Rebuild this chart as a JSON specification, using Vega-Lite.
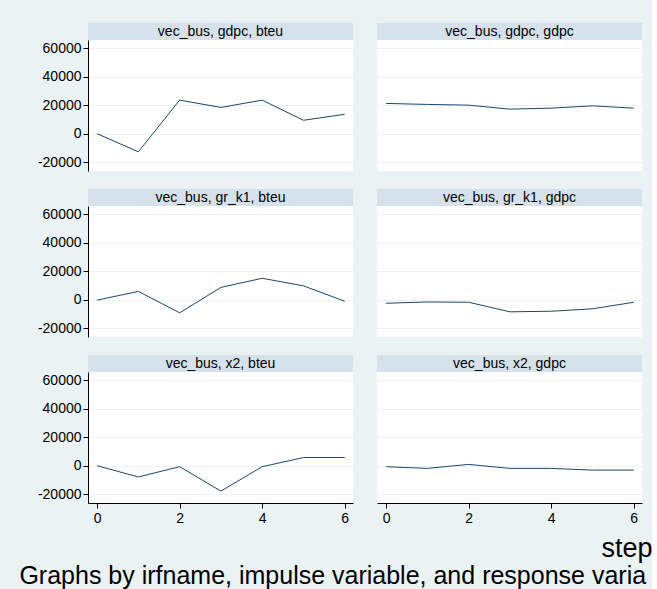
{
  "$schema": "https://vega.github.io/schema/vega-lite/v6.json",
  "background": "#eaf2f3",
  "padding": {"left": 19, "top": 23, "right": 0, "bottom": 0},
  "autosize": {"type": "pad"},
  "datasets": {
    "irf": [
      {"panel": "vec_bus, gdpc, bteu", "step": 0, "value": 0},
      {"panel": "vec_bus, gdpc, bteu", "step": 1, "value": -12700},
      {"panel": "vec_bus, gdpc, bteu", "step": 2, "value": 23500},
      {"panel": "vec_bus, gdpc, bteu", "step": 3, "value": 18400},
      {"panel": "vec_bus, gdpc, bteu", "step": 4, "value": 23500},
      {"panel": "vec_bus, gdpc, bteu", "step": 5, "value": 9400},
      {"panel": "vec_bus, gdpc, bteu", "step": 6, "value": 13600},
      {"panel": "vec_bus, gdpc, gdpc", "step": 0, "value": 21200},
      {"panel": "vec_bus, gdpc, gdpc", "step": 1, "value": 20500},
      {"panel": "vec_bus, gdpc, gdpc", "step": 2, "value": 20000},
      {"panel": "vec_bus, gdpc, gdpc", "step": 3, "value": 17200},
      {"panel": "vec_bus, gdpc, gdpc", "step": 4, "value": 17900},
      {"panel": "vec_bus, gdpc, gdpc", "step": 5, "value": 19500},
      {"panel": "vec_bus, gdpc, gdpc", "step": 6, "value": 17900},
      {"panel": "vec_bus, gr_k1, bteu", "step": 0, "value": -300},
      {"panel": "vec_bus, gr_k1, bteu", "step": 1, "value": 5800},
      {"panel": "vec_bus, gr_k1, bteu", "step": 2, "value": -9200},
      {"panel": "vec_bus, gr_k1, bteu", "step": 3, "value": 8600},
      {"panel": "vec_bus, gr_k1, bteu", "step": 4, "value": 15000},
      {"panel": "vec_bus, gr_k1, bteu", "step": 5, "value": 9700},
      {"panel": "vec_bus, gr_k1, bteu", "step": 6, "value": -1100},
      {"panel": "vec_bus, gr_k1, gdpc", "step": 0, "value": -2500},
      {"panel": "vec_bus, gr_k1, gdpc", "step": 1, "value": -1600},
      {"panel": "vec_bus, gr_k1, gdpc", "step": 2, "value": -1800},
      {"panel": "vec_bus, gr_k1, gdpc", "step": 3, "value": -8500},
      {"panel": "vec_bus, gr_k1, gdpc", "step": 4, "value": -8100},
      {"panel": "vec_bus, gr_k1, gdpc", "step": 5, "value": -6400},
      {"panel": "vec_bus, gr_k1, gdpc", "step": 6, "value": -1800},
      {"panel": "vec_bus, x2, bteu", "step": 0, "value": 0},
      {"panel": "vec_bus, x2, bteu", "step": 1, "value": -7900},
      {"panel": "vec_bus, x2, bteu", "step": 2, "value": -700},
      {"panel": "vec_bus, x2, bteu", "step": 3, "value": -17800},
      {"panel": "vec_bus, x2, bteu", "step": 4, "value": -700},
      {"panel": "vec_bus, x2, bteu", "step": 5, "value": 5700},
      {"panel": "vec_bus, x2, bteu", "step": 6, "value": 5700},
      {"panel": "vec_bus, x2, gdpc", "step": 0, "value": -700},
      {"panel": "vec_bus, x2, gdpc", "step": 1, "value": -1900},
      {"panel": "vec_bus, x2, gdpc", "step": 2, "value": 900},
      {"panel": "vec_bus, x2, gdpc", "step": 3, "value": -1900},
      {"panel": "vec_bus, x2, gdpc", "step": 4, "value": -1900},
      {"panel": "vec_bus, x2, gdpc", "step": 5, "value": -3100},
      {"panel": "vec_bus, x2, gdpc", "step": 6, "value": -3100}
    ]
  },
  "title": {
    "text": "Graphs by irfname, impulse variable, and response varia",
    "orient": "bottom",
    "anchor": "start",
    "frame": "bounds",
    "dx": -18,
    "offset": 3,
    "font": "Liberation Sans",
    "fontSize": 25,
    "fontWeight": "normal",
    "color": "#000000"
  },
  "config": {
    "view": {"stroke": null},
    "axis": {
      "labelFont": "Liberation Sans",
      "labelColor": "#000000",
      "labelFontSize": 14,
      "tickColor": "#000000",
      "domainColor": "#000000",
      "gridColor": "#eaf2f3",
      "gridWidth": 1,
      "tickSize": 5,
      "labelPadding": 2
    }
  },
  "concat": [
    {
      "spacing": 0,
      "vconcat": [
        {"width": 265, "height": 17, "view": {"fill": "#d6e2eb", "stroke": null}, "data": {"name": "irf"},
         "transform": [{"filter": "datum.panel === 'vec_bus, gdpc, bteu' && datum.step === 0"}],
         "mark": {"type": "text", "font": "Liberation Sans", "fontSize": 14, "color": "#000000"},
         "encoding": {"text": {"field": "panel"}}},
        {"width": 265, "height": 131, "view": {"fill": "#ffffff", "stroke": null}, "data": {"name": "irf"},
         "transform": [{"filter": "datum.panel === 'vec_bus, gdpc, bteu'"}],
         "mark": {"type": "line", "color": "#1a476f", "strokeWidth": 1},
         "encoding": {
           "x": {"field": "step", "type": "quantitative", "scale": {"domain": [-0.22, 6.2], "nice": false, "zero": false}, "axis": null},
           "y": {"field": "value", "type": "quantitative", "scale": {"domain": [-26150, 65650], "nice": false, "zero": false},
                 "axis": {"values": [-20000, 0, 20000, 40000, 60000], "title": null, "grid": true, "labelExpr": "'' + datum.value"}}
         }}
      ]
    },
    {
      "spacing": 0,
      "vconcat": [
        {"width": 265, "height": 17, "view": {"fill": "#d6e2eb", "stroke": null}, "data": {"name": "irf"},
         "transform": [{"filter": "datum.panel === 'vec_bus, gdpc, gdpc' && datum.step === 0"}],
         "mark": {"type": "text", "font": "Liberation Sans", "fontSize": 14, "color": "#000000"},
         "encoding": {"text": {"field": "panel"}}},
        {"width": 265, "height": 131, "view": {"fill": "#ffffff", "stroke": null}, "data": {"name": "irf"},
         "transform": [{"filter": "datum.panel === 'vec_bus, gdpc, gdpc'"}],
         "mark": {"type": "line", "color": "#1a476f", "strokeWidth": 1},
         "encoding": {
           "x": {"field": "step", "type": "quantitative", "scale": {"domain": [-0.22, 6.2], "nice": false, "zero": false}, "axis": null},
           "y": {"field": "value", "type": "quantitative", "scale": {"domain": [-26150, 65650], "nice": false, "zero": false},
                 "axis": {"values": [-20000, 0, 20000, 40000, 60000], "title": null, "grid": true, "labels": false, "ticks": false, "domain": false}}
         }}
      ]
    },
    {
      "spacing": 0,
      "vconcat": [
        {"width": 265, "height": 17, "view": {"fill": "#d6e2eb", "stroke": null}, "data": {"name": "irf"},
         "transform": [{"filter": "datum.panel === 'vec_bus, gr_k1, bteu' && datum.step === 0"}],
         "mark": {"type": "text", "font": "Liberation Sans", "fontSize": 14, "color": "#000000"},
         "encoding": {"text": {"field": "panel"}}},
        {"width": 265, "height": 131, "view": {"fill": "#ffffff", "stroke": null}, "data": {"name": "irf"},
         "transform": [{"filter": "datum.panel === 'vec_bus, gr_k1, bteu'"}],
         "mark": {"type": "line", "color": "#1a476f", "strokeWidth": 1},
         "encoding": {
           "x": {"field": "step", "type": "quantitative", "scale": {"domain": [-0.22, 6.2], "nice": false, "zero": false}, "axis": null},
           "y": {"field": "value", "type": "quantitative", "scale": {"domain": [-26150, 65650], "nice": false, "zero": false},
                 "axis": {"values": [-20000, 0, 20000, 40000, 60000], "title": null, "grid": true, "labelExpr": "'' + datum.value"}}
         }}
      ]
    },
    {
      "spacing": 0,
      "vconcat": [
        {"width": 265, "height": 17, "view": {"fill": "#d6e2eb", "stroke": null}, "data": {"name": "irf"},
         "transform": [{"filter": "datum.panel === 'vec_bus, gr_k1, gdpc' && datum.step === 0"}],
         "mark": {"type": "text", "font": "Liberation Sans", "fontSize": 14, "color": "#000000"},
         "encoding": {"text": {"field": "panel"}}},
        {"width": 265, "height": 131, "view": {"fill": "#ffffff", "stroke": null}, "data": {"name": "irf"},
         "transform": [{"filter": "datum.panel === 'vec_bus, gr_k1, gdpc'"}],
         "mark": {"type": "line", "color": "#1a476f", "strokeWidth": 1},
         "encoding": {
           "x": {"field": "step", "type": "quantitative", "scale": {"domain": [-0.22, 6.2], "nice": false, "zero": false}, "axis": null},
           "y": {"field": "value", "type": "quantitative", "scale": {"domain": [-26150, 65650], "nice": false, "zero": false},
                 "axis": {"values": [-20000, 0, 20000, 40000, 60000], "title": null, "grid": true, "labels": false, "ticks": false, "domain": false}}
         }}
      ]
    },
    {
      "spacing": 0,
      "vconcat": [
        {"width": 265, "height": 17, "view": {"fill": "#d6e2eb", "stroke": null}, "data": {"name": "irf"},
         "transform": [{"filter": "datum.panel === 'vec_bus, x2, bteu' && datum.step === 0"}],
         "mark": {"type": "text", "font": "Liberation Sans", "fontSize": 14, "color": "#000000"},
         "encoding": {"text": {"field": "panel"}}},
        {"width": 265, "height": 131, "view": {"fill": "#ffffff", "stroke": null}, "data": {"name": "irf"},
         "transform": [{"filter": "datum.panel === 'vec_bus, x2, bteu'"}],
         "mark": {"type": "line", "color": "#1a476f", "strokeWidth": 1},
         "encoding": {
           "x": {"field": "step", "type": "quantitative", "scale": {"domain": [-0.22, 6.2], "nice": false, "zero": false},
                 "axis": {"values": [0, 2, 4, 6], "title": null, "grid": false, "labelPadding": 3}},
           "y": {"field": "value", "type": "quantitative", "scale": {"domain": [-26150, 65650], "nice": false, "zero": false},
                 "axis": {"values": [-20000, 0, 20000, 40000, 60000], "title": null, "grid": true, "labelExpr": "'' + datum.value"}}
         }}
      ]
    },
    {
      "spacing": 0,
      "vconcat": [
        {"width": 265, "height": 17, "view": {"fill": "#d6e2eb", "stroke": null}, "data": {"name": "irf"},
         "transform": [{"filter": "datum.panel === 'vec_bus, x2, gdpc' && datum.step === 0"}],
         "mark": {"type": "text", "font": "Liberation Sans", "fontSize": 14, "color": "#000000"},
         "encoding": {"text": {"field": "panel"}}},
        {"width": 265, "height": 131, "view": {"fill": "#ffffff", "stroke": null}, "data": {"name": "irf"},
         "transform": [{"filter": "datum.panel === 'vec_bus, x2, gdpc'"}],
         "mark": {"type": "line", "color": "#1a476f", "strokeWidth": 1},
         "encoding": {
           "x": {"field": "step", "type": "quantitative", "scale": {"domain": [-0.22, 6.2], "nice": false, "zero": false},
                 "axis": {"values": [0, 2, 4, 6], "title": "step", "grid": false, "labelPadding": 3,
                          "titleFont": "Liberation Sans", "titleFontSize": 27, "titleFontWeight": "normal", "titleColor": "#000000",
                          "titleAnchor": "end", "titleAlign": "right", "titleX": 275, "titleY": 53, "titleBaseline": "alphabetic"}},
           "y": {"field": "value", "type": "quantitative", "scale": {"domain": [-26150, 65650], "nice": false, "zero": false},
                 "axis": {"values": [-20000, 0, 20000, 40000, 60000], "title": null, "grid": true, "labels": false, "ticks": false, "domain": false}}
         }}
      ]
    }
  ],
  "columns": 2,
  "spacing": {"row": 18, "column": 24}
}
